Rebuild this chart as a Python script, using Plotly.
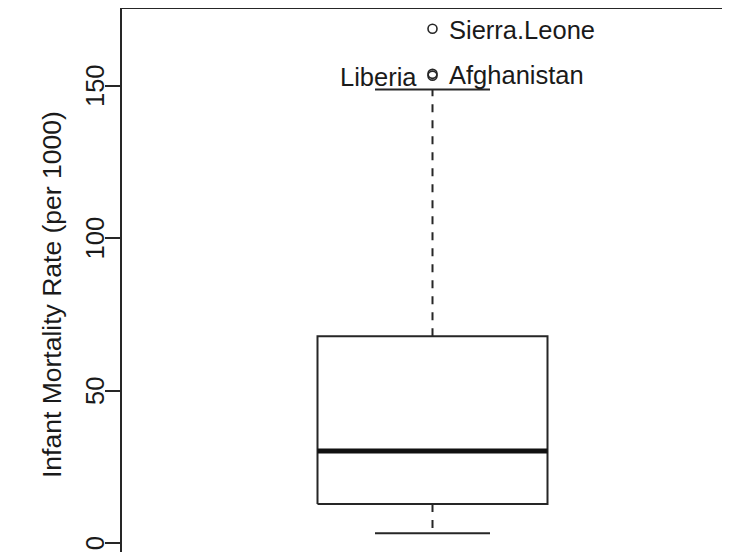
import plotly.graph_objects as go

# ---- data ----
stats_names = ["lower_whisker", "q1", "median", "q3", "upper_whisker"]
stats_values = [3.3, 12.9, 30.3, 67.9, 148.9]
outlier_names = ["Sierra.Leone", "Afghanistan", "Liberia"]
outlier_values = [168.8, 154.0, 153.4]
outlier_side = ["right", "right", "left"]
y_ticks = [0, 50, 100, 150]
y_tick_labels = ["0", "50", "100", "150"]
y_title = "Infant Mortality Rate (per 1000)"

lo, q1, med, q3, hi = stats_values
cx = 1.0
half_box = 0.4
half_cap = 0.2
col = "#262626"
tcol = "#1a1a1a"
font = "Liberation Sans, Arial, sans-serif"

fig = go.Figure()
# box outline
fig.add_trace(go.Scatter(
    x=[cx - half_box, cx + half_box, cx + half_box, cx - half_box, cx - half_box],
    y=[q1, q1, q3, q3, q1], mode="lines",
    line=dict(color=col, width=2), hoverinfo="skip"))
# median
fig.add_trace(go.Scatter(x=[cx - half_box, cx + half_box], y=[med, med], mode="lines",
                         line=dict(color="#111111", width=5), hoverinfo="skip"))
# whiskers (dashed)
fig.add_trace(go.Scatter(x=[cx, cx], y=[q3, hi], mode="lines",
                         line=dict(color=col, width=2, dash="8px,8px"), hoverinfo="skip"))
fig.add_trace(go.Scatter(x=[cx, cx], y=[q1, lo], mode="lines",
                         line=dict(color=col, width=2, dash="8px,8px"), hoverinfo="skip"))
# caps
for v in (lo, hi):
    fig.add_trace(go.Scatter(x=[cx - half_cap, cx + half_cap], y=[v, v], mode="lines",
                             line=dict(color=col, width=2), hoverinfo="skip"))
# outliers
fig.add_trace(go.Scatter(x=[cx] * len(outlier_values), y=outlier_values, mode="markers",
                         marker=dict(symbol="circle-open", size=9, color=col,
                                     line=dict(width=1.6, color=col)),
                         hovertext=outlier_names))

for name, v, side in zip(outlier_names, outlier_values, outlier_side):
    fig.add_annotation(x=cx, y=v, text=name, showarrow=False,
                       xanchor="left" if side == "right" else "right",
                       xshift=14 if side == "right" else -14, yshift=-1,
                       font=dict(family=font, size=25.5, color=tcol))

fig_w, fig_h = 722, 544
left_m = 114
top_m = 1
plot_w = fig_w - left_m
plot_h = fig_h - top_m
# y tick labels (rotated, as in the reference)
for t, lab in zip(y_ticks, y_tick_labels):
    fig.add_annotation(xref="paper", yref="y", x=(87 - left_m) / plot_w, y=t,
                       text=lab, textangle=-90, showarrow=False,
                       xanchor="center", yanchor="middle",
                       font=dict(family=font, size=25.5, color=tcol))

fig.add_annotation(xref="paper", yref="paper", x=(44 - left_m) / plot_w, y=(fig_h - 287) / plot_h,
                   text=y_title, textangle=-90, showarrow=False,
                   xanchor="center", yanchor="middle",
                   font=dict(family=font, size=26.5, color=tcol))

fig.update_layout(
    width=fig_w, height=fig_h,
    margin=dict(l=left_m, r=0, t=top_m, b=0, autoexpand=False),
    paper_bgcolor="white", plot_bgcolor="white",
    showlegend=False,
    xaxis=dict(range=[-0.08, -0.08 + plot_w / 287.5], side="top", showline=True,
               linecolor=col, linewidth=2,
               showticklabels=False, ticks="", showgrid=False, zeroline=False, fixedrange=True),
    yaxis=dict(range=[-2.85, 175.27], showline=True, linecolor=col, linewidth=2,
               ticks="outside", ticklen=15, tickwidth=2, tickcolor=col,
               tickvals=y_ticks, showticklabels=False,
               showgrid=False, zeroline=False, automargin=False, fixedrange=True),
)

fig.write_html("out.html")
